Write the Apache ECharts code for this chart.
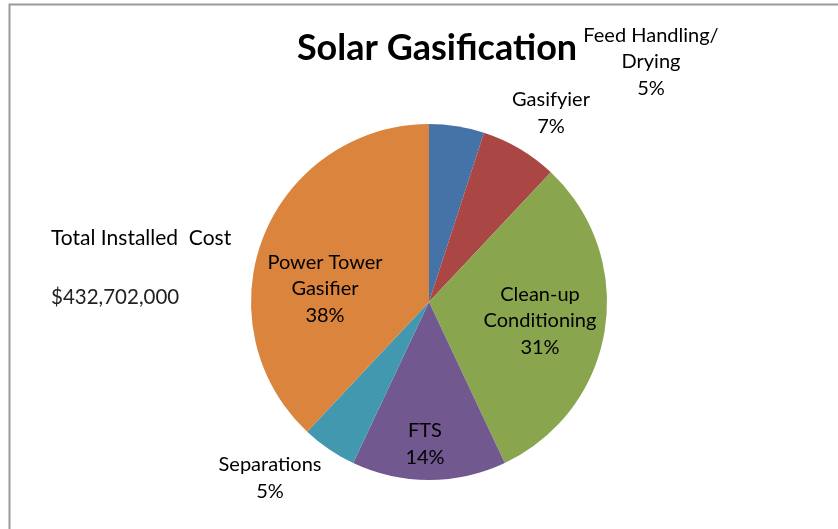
<!DOCTYPE html>
<html>
<head>
<meta charset="utf-8">
<title>Solar Gasification</title>
<script src="https://cdn.jsdelivr.net/npm/echarts@6/dist/echarts.min.js"></script>
<style>
  html, body { margin: 0; padding: 0; background: #fff; }
  #solar_pie_chart { width: 838px; height: 529px; }
</style>
</head>
<body>
<div id="solar_pie_chart"></div>
<script>
// 数据 ------------------
var cost_names  = ['Feed Handling/\nDrying', 'Gasifyier', 'Clean-up\nConditioning', 'FTS', 'Separations', 'Power Tower\nGasifier'];
var cost_shares = [5, 7, 31, 14, 5, 38];
var cost_colors = ['#4572A7', '#AA4643', '#89A54E', '#71588F', '#4198AF', '#DB843D'];
var total_cost_text = ['Total Installed  Cost', '$432,702,000'];

// 标签位置 (像素)
var label_pos = [[651, 62], [551, 113], [540, 321], [425, 444], [270, 478], [325, 289]];

var font_main = 'Lato, "Open Sans", sans-serif';

// 图表实例化------------------
var solar_pie_chart = echarts.init(document.getElementById('solar_pie_chart'), null, { renderer: 'canvas' });

var pie_data = [];
for (var i = 0; i < cost_names.length; i++) {
	pie_data.push({ name: cost_names[i], value: cost_shares[i], itemStyle: { color: cost_colors[i] } });
}

var option = {
	animation: false,
	backgroundColor: '#fff',
	title: {
		text: 'Solar Gasification',
		left: 432,
		top: 25,
		textAlign: 'center',
		textStyle: { fontFamily: font_main, fontSize: 36, fontWeight: 'bold', color: '#000' }
	},
	graphic: [
		// 外框
		{
			type: 'rect', silent: true,
			shape: { x: 9.5, y: 4.5, width: 900, height: 600 },
			style: { fill: null, stroke: '#9a9a9a', lineWidth: 2 }
		},
		{
			type: 'text', left: 51, top: 228,
			style: { text: total_cost_text[0], font: '21px ' + font_main, fill: '#000' }
		},
		{
			type: 'text', left: 51, top: 287,
			style: { text: total_cost_text[1], font: '20.5px ' + font_main, fill: '#222' }
		}
	],
	series: [{
		type: 'pie',
		center: [429, 302],
		radius: 178,
		startAngle: 90,
		clockwise: true,
		avoidLabelOverlap: false,
		emphasis: { disabled: true },
		itemStyle: { borderWidth: 0 },
		label: {
			show: true,
			position: 'inside',
			fontFamily: font_main,
			fontSize: 20,
			lineHeight: 26.5,
			color: '#000',
			align: 'center',
			formatter: function (p) {
				return p.name + '\n' + Math.round(p.percent) + '%';
			}
		},
		labelLine: { show: false },
		labelLayout: function (params) {
			var pos = label_pos[params.dataIndex];
			return { x: pos[0], y: pos[1], align: 'center', verticalAlign: 'middle' };
		},
		data: pie_data
	}]
};

solar_pie_chart.setOption(option);
</script>
</body>
</html>
